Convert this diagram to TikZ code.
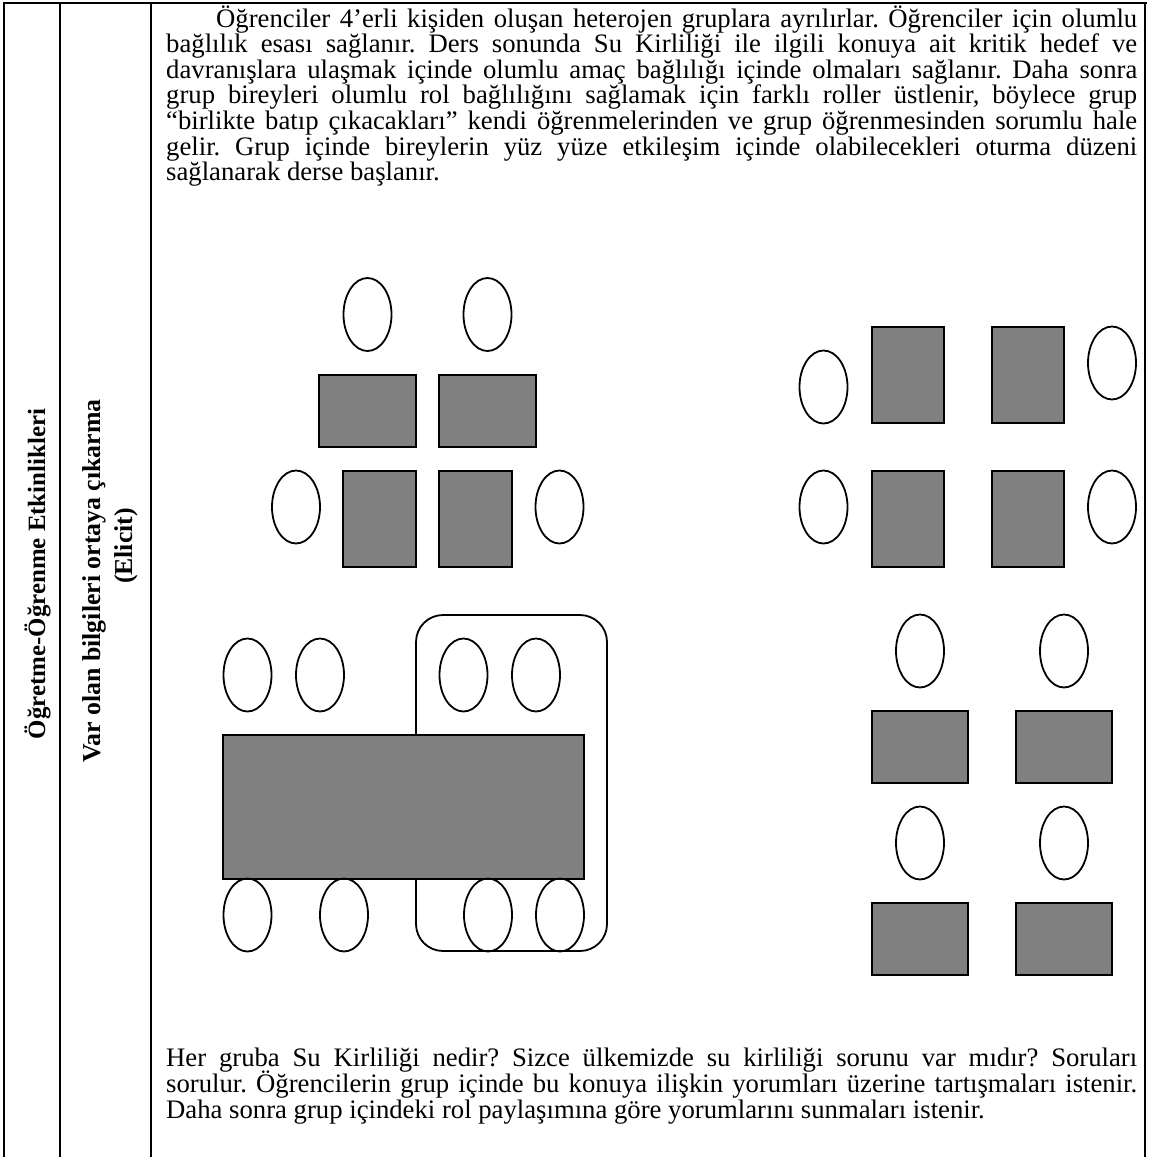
\documentclass[tikz,border=0pt]{standalone}
\usepackage{fontspec}
\setmainfont{Liberation Serif}
\frenchspacing
\begin{document}
\begin{tikzpicture}[x=1pt,y=-1pt,
  rule/.style={line width=2pt},
  seat/.style={draw=black, line width=1.8pt},
  desk/.style={draw=black, fill=gray, line width=1.8pt},
  txt/.style={inner sep=0pt, anchor=base west, font=\fontsize{26.7}{25.6}\selectfont\frenchspacing},
  vlab/.style={inner sep=0pt, anchor=base, rotate=90, font=\bfseries\fontsize{24.9}{25.6}\selectfont},
  vlabb/.style={inner sep=0pt, anchor=base, rotate=90, font=\bfseries\fontsize{25.8}{25.6}\selectfont}]
\useasboundingbox (0,0) rectangle (1149,1157);
% table rules
\draw[rule] (3,2.5) -- (1146.5,2.5);
\draw[rule] (4,2) -- (4,1157);
\draw[rule] (59.5,2) -- (59.5,1157);
\draw[rule] (151,2) -- (151,1157);
\draw[line width=2.6pt] (1145,2) -- (1145,1157);
% vertical labels
\node[vlab] (c1) at (45,574) {Öğretme-Öğrenme Etkinlikleri};
\node[vlabb] (c2) at (100,581) {Var olan bilgileri ortaya çıkarma};
\node[vlabb] (c3) at (132,546) {(Elicit)};
% top paragraph
\node[txt] (t1) at (216,27) {\makebox[921pt][s]{Öğrenciler 4’erli kişiden oluşan heterojen gruplara ayrılırlar. Öğrenciler için olumlu}};
\node[txt] (t2) at (166,52.6) {\makebox[971pt][s]{bağlılık esası sağlanır. Ders sonunda Su Kirliliği ile ilgili konuya ait kritik hedef ve}};
\node[txt] (t3) at (166,78.2) {\makebox[971pt][s]{davranışlara ulaşmak içinde olumlu amaç bağlılığı içinde olmaları sağlanır. Daha sonra}};
\node[txt] (t4) at (166,103.8) {\makebox[971pt][s]{grup bireyleri olumlu rol bağlılığını sağlamak için farklı roller üstlenir, böylece grup}};
\node[txt] (t5) at (166,129.4) {\makebox[971pt][s]{“birlikte batıp çıkacakları” kendi öğrenmelerinden ve grup öğrenmesinden sorumlu hale}};
\node[txt] (t6) at (166,155) {\makebox[971pt][s]{gelir. Grup içinde bireylerin yüz yüze etkileşim içinde olabilecekleri oturma düzeni}};
\node[txt] (t7) at (166,180.6) {sağlanarak derse başlanır.};
% bottom paragraph
\node[txt] (b1) at (166,1066) {\makebox[971pt][s]{Her gruba Su Kirliliği nedir? Sizce ülkemizde su kirliliği sorunu var mıdır? Soruları}};
\node[txt] (b2) at (166,1092) {\makebox[971pt][s]{sorulur. Öğrencilerin grup içinde bu konuya ilişkin yorumları üzerine tartışmaları istenir.}};
\node[txt] (b3) at (166,1118) {Daha sonra grup içindeki rol paylaşımına göre yorumlarını sunmaları istenir.};
% group 1 (top left)
\draw[seat] (367.5,314.5) ellipse [x radius=24, y radius=36.5];
\draw[seat] (487.5,314.5) ellipse [x radius=24, y radius=36.5];
\draw[desk] (319,375) rectangle (416,447);
\draw[desk] (439,375) rectangle (536,447);
\draw[desk] (343,471) rectangle (416,567);
\draw[desk] (439,471) rectangle (512,567);
\draw[seat] (296,507) ellipse [x radius=24, y radius=36.5];
\draw[seat] (559.5,507) ellipse [x radius=24, y radius=36.5];
% group 2 (top right)
\draw[seat] (823.5,387) ellipse [x radius=24, y radius=36.5];
\draw[desk] (872,327) rectangle (944,423);
\draw[desk] (992,327) rectangle (1064,423);
\draw[seat] (1112,363) ellipse [x radius=24, y radius=36.5];
\draw[seat] (823.5,507) ellipse [x radius=24, y radius=36.5];
\draw[desk] (872,471) rectangle (944,567);
\draw[desk] (992,471) rectangle (1064,567);
\draw[seat] (1112,507) ellipse [x radius=24, y radius=36.5];
% group 3 (bottom right)
\draw[seat] (920,651) ellipse [x radius=24, y radius=36.5];
\draw[seat] (1064,651) ellipse [x radius=24, y radius=36.5];
\draw[desk] (872,711) rectangle (968,783);
\draw[desk] (1016,711) rectangle (1112,783);
\draw[seat] (920,843) ellipse [x radius=24, y radius=36.5];
\draw[seat] (1064,843) ellipse [x radius=24, y radius=36.5];
\draw[desk] (872,903) rectangle (968,975);
\draw[desk] (1016,903) rectangle (1112,975);
% group 4 (bottom left, long table)
\draw[seat, rounded corners=27pt] (416,615) rectangle (607,951);
\draw[seat] (247.5,675) ellipse [x radius=24, y radius=36.5];
\draw[seat] (320,675) ellipse [x radius=24, y radius=36.5];
\draw[seat] (463.5,675) ellipse [x radius=24, y radius=36.5];
\draw[seat] (536,675) ellipse [x radius=24, y radius=36.5];
\draw[desk] (223,735) rectangle (584,879);
\draw[seat] (247.5,915) ellipse [x radius=24, y radius=36.5];
\draw[seat] (344,915) ellipse [x radius=24, y radius=36.5];
\draw[seat] (488,915) ellipse [x radius=24, y radius=36.5];
\draw[seat] (560,915) ellipse [x radius=24, y radius=36.5];
\end{tikzpicture}
\end{document}
